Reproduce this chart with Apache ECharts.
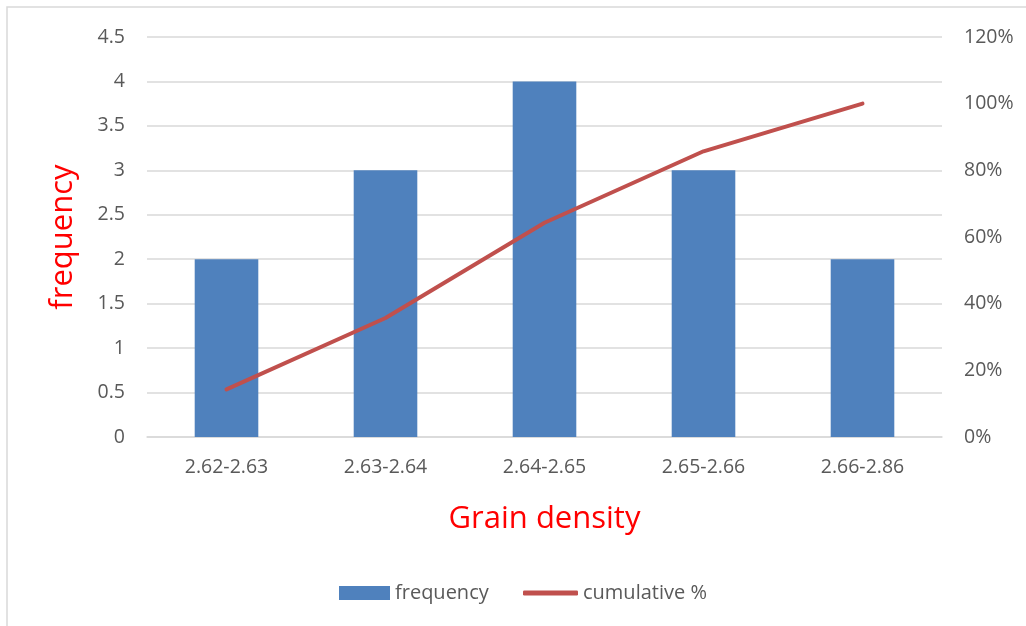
<!DOCTYPE html>
<html><head><meta charset="utf-8">
<script src="https://cdn.jsdelivr.net/npm/echarts@6/dist/echarts.min.js"></script>
<style>html,body{margin:0;padding:0;background:#fff}#c{width:1026px;height:626px}</style>
</head><body><div id="c"></div>
<script>
const categories = ['2.62-2.63','2.63-2.64','2.64-2.65','2.65-2.66','2.66-2.86'];
const frequency = [2,3,4,3,2];
const cumulative = [14.29,35.71,64.29,85.71,100];
const leftTicks = {min:0,max:4.5,interval:0.5};
const rightTicks = {min:0,max:120,interval:20};
const font = '"Open Sans", "Liberation Sans", sans-serif';
const chart = echarts.init(document.getElementById('c'), null, {renderer:'canvas'});
const legendText = {fontFamily:font,fontSize:20,color:'#595959'};
chart.setOption({
  animation:false,
  backgroundColor:'#fff',
  graphic:[{type:'rect',shape:{x:7,y:7,width:1100,height:700},style:{fill:'none',stroke:'#d9d9d9',lineWidth:1.5},silent:true}],
  grid:{left:147,right:84,top:37,bottom:189,containLabel:false},
  legend:[
    {left:334,top:578,itemWidth:51,itemHeight:14,textStyle:legendText,
      data:[{name:'frequency',icon:'rect'}]},
    {left:518,top:578,itemWidth:55,itemHeight:5,textStyle:legendText,
      data:[{name:'cumulative %',icon:'roundRect'}]}
  ],
  xAxis:{type:'category',data:categories,
    axisLine:{lineStyle:{color:'#d9d9d9',width:1.5}},axisTick:{show:false},
    axisLabel:{fontFamily:font,fontSize:19.5,color:'#595959',margin:20},
    name:'Grain density',nameLocation:'middle',nameGap:67,
    nameTextStyle:{fontFamily:font,fontSize:31,color:'#ff0000'}},
  yAxis:[{type:'value',min:leftTicks.min,max:leftTicks.max,interval:leftTicks.interval,
      axisLine:{show:false},axisTick:{show:false},
      splitLine:{lineStyle:{color:'#d9d9d9',width:1.5}},
      axisLabel:{fontFamily:font,fontSize:19.5,color:'#595959',margin:22},
      name:'frequency',nameLocation:'middle',nameGap:68,nameRotate:90,
      nameTextStyle:{fontFamily:font,fontSize:31,color:'#ff0000'}},
    {type:'value',min:rightTicks.min,max:rightTicks.max,interval:rightTicks.interval,
      axisLine:{show:false},axisTick:{show:false},splitLine:{show:false},
      axisLabel:{fontFamily:font,fontSize:19.5,color:'#595959',margin:22,formatter:'{value}%'}}],
  series:[
    {name:'frequency',type:'bar',data:frequency,barWidth:'40%',itemStyle:{color:'#4F81BD'},yAxisIndex:0},
    {name:'cumulative %',type:'line',data:cumulative,yAxisIndex:1,showSymbol:false,symbol:'none',
      lineStyle:{color:'#C0504D',width:4,cap:'round'},itemStyle:{color:'#C0504D'}}
  ]
});
</script></body></html>
